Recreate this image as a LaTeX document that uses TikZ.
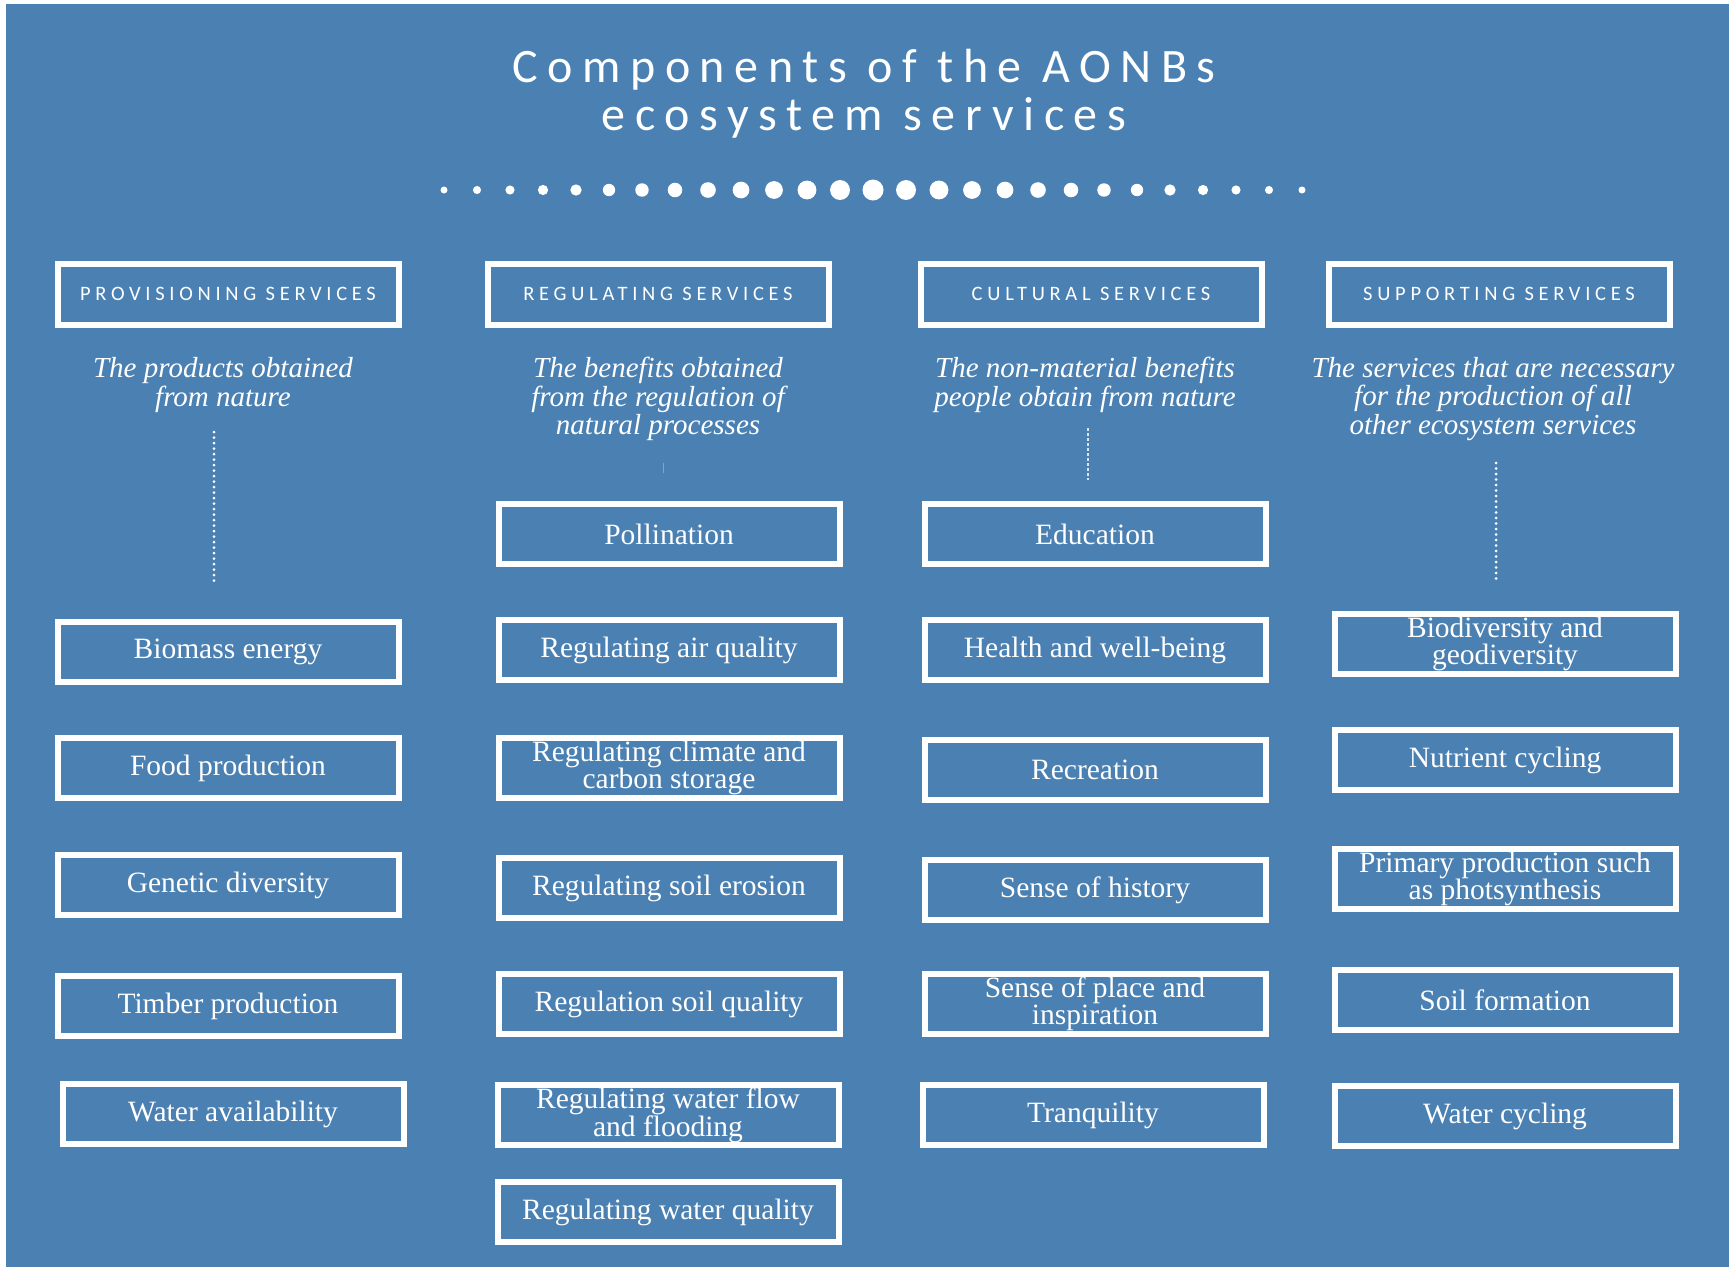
\documentclass[tikz,border=0pt]{standalone}
\usepackage{fontspec}
\setmainfont{Liberation Serif}
\newfontfamily\titlefont[LetterSpace=20]{Carlito}
\newfontfamily\headfont[LetterSpace=23]{Carlito}
\definecolor{aonbblue}{RGB}{75,128,178}
\tikzset{
  headbox/.style={draw=white, line width=6pt, minimum width=341pt, minimum height=61pt, inner sep=0pt, text=white, font=\headfont\fontsize{20.5}{20}\selectfont},
  itembox/.style={draw=white, line width=6pt, minimum width=341pt, minimum height=60pt, inner sep=0pt, text=white, align=center, font=\fontsize{29.5}{24}\selectfont},
  desc/.style={text=white, align=center, font=\itshape\fontsize{29}{28.5}\selectfont},
  dotline/.style={white, line width=3pt, dash pattern=on 0pt off 5.5pt, line cap=round}
}

\begin{document}
\begin{tikzpicture}[x=1pt, y=-1pt]
		%%%%% START %%%%%
		
		\fill[white] (0, 0) rectangle (1731, 1267);
		\fill[aonbblue] (6, 4) rectangle (1729, 1267);
		
		\node[text=white, align=center, font=\titlefont\fontsize{48}{48}\selectfont] (title) at (864, 94) {Components of the AONBs\\ecosystem services};
		
		\foreach \i in {-13,...,13}
			\fill[white] ({873+33*\i}, 190) circle ({10.5-7*abs(\i)/13});
		
		\node[headbox] (prov) at (228, 294) {PROVISIONING SERVICES};
		\node[headbox] (regu) at (658, 294) {REGULATING SERVICES};
		\node[headbox] (cult) at (1091, 294) {CULTURAL SERVICES};
		\node[headbox] (supp) at (1499, 294) {SUPPORTING SERVICES};
		
		\node[desc] (provdesc) at (223, 385) {The products obtained\\from nature};
		\node[desc] (regudesc) at (658, 399) {The benefits obtained\\from the regulation of\\natural processes};
		\node[desc] (cultdesc) at (1085, 385) {The non-material benefits\\people obtain from nature};
		\node[desc] (suppdesc) at (1493, 399) {The services that are necessary\\for the production of all\\other ecosystem services};
		
		\coordinate (provtop) at (214, 432);
		\coordinate (provbot) at (214, 585);
		\draw[dotline] (provtop) -- (provbot);
		\coordinate (regutop) at (663, 463);
		\coordinate (regubot) at (663, 473);
		\draw[white, opacity=0.3, line width=1pt] (regutop) -- (regubot);
		\coordinate (culttop) at (1088, 428);
		\coordinate (cultbot) at (1088, 480);
		\draw[white, opacity=0.8, line width=1.2pt, dash pattern=on 3pt off 2pt] (culttop) -- (cultbot);
		\coordinate (supptop) at (1496, 463);
		\coordinate (suppbot) at (1496, 583);
		\draw[dotline] (supptop) -- (suppbot);
		
		\node[itembox] (biomass) at (228, 652) {Biomass energy};
		\node[itembox] (food) at (228, 768) {Food production};
		\node[itembox] (genetic) at (228, 885) {Genetic diversity};
		\node[itembox] (timber) at (228, 1006) {Timber production};
		\node[itembox] (wateravail) at (233, 1114) {Water availability};
		
		\node[itembox] (pollin) at (669, 534) {Pollination};
		\node[itembox] (air) at (669, 650) {Regulating air quality};
		\node[itembox] (climate) at (669, 768) {Regulating climate and\\carbon storage};
		\node[itembox] (erosion) at (669, 888) {Regulating soil erosion};
		\node[itembox] (soilqual) at (669, 1004) {Regulation soil quality};
		\node[itembox] (flow) at (668, 1115) {Regulating water flow\\and flooding};
		\node[itembox] (waterqual) at (668, 1212) {Regulating water quality};
		
		\node[itembox] (educ) at (1095, 534) {Education};
		\node[itembox] (health) at (1095, 650) {Health and well-being};
		\node[itembox] (recre) at (1095, 770) {Recreation};
		\node[itembox] (history) at (1095, 890) {Sense of history};
		\node[itembox] (place) at (1095, 1004) {Sense of place and\\inspiration};
		\node[itembox] (tranq) at (1093, 1115) {Tranquility};
		
		\node[itembox] (biodiv) at (1505, 644) {Biodiversity and\\geodiversity};
		\node[itembox] (nutrient) at (1505, 760) {Nutrient cycling};
		\node[itembox] (primary) at (1505, 879) {Primary production such\\as photsynthesis};
		\node[itembox] (soilform) at (1505, 1000) {Soil formation};
		\node[itembox] (watercyc) at (1505, 1116) {Water cycling};
		
		%%%%% END %%%%%
	\end{tikzpicture}
\end{document}
